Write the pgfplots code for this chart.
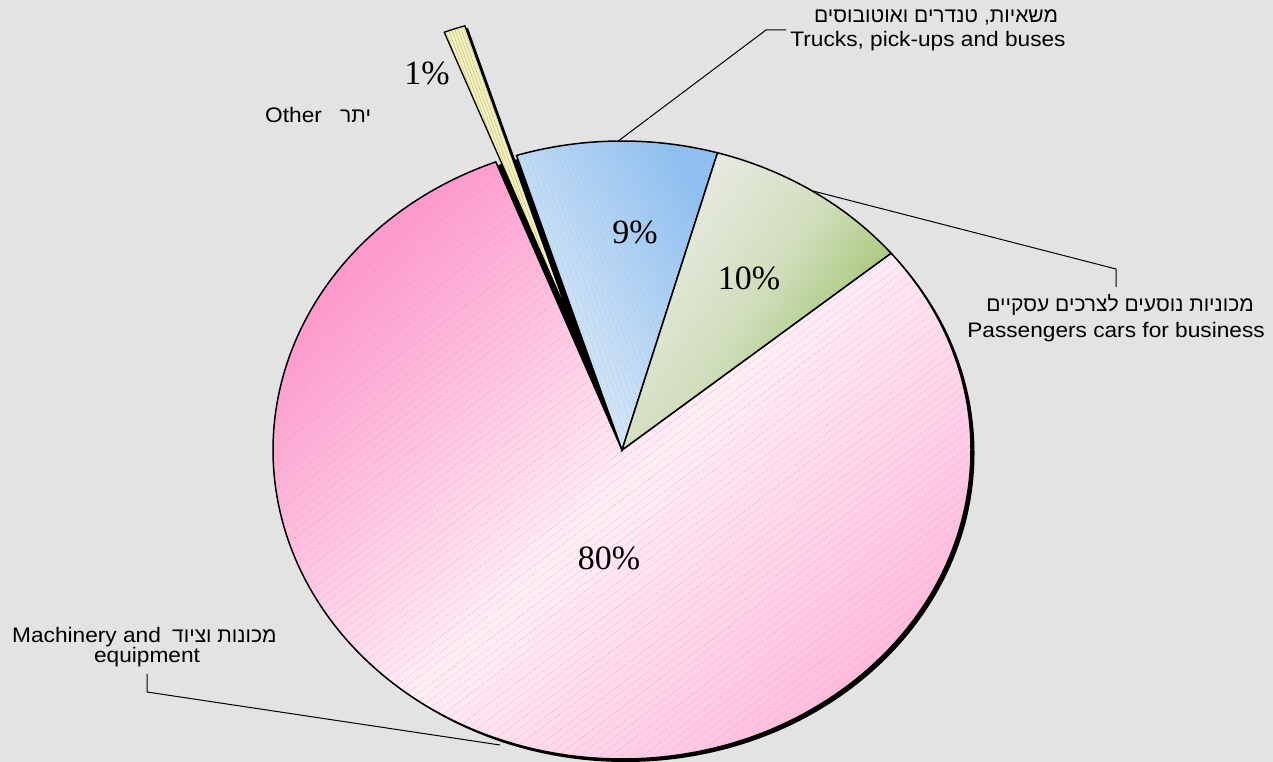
\documentclass[border=0pt]{standalone}
\usepackage{fontspec}
\setmainfont[FakeStretch=1.08]{Liberation Sans}
\newfontfamily\hebfont[Script=Hebrew]{Liberation Sans}
\newfontfamily\pctfont{Liberation Serif}
\TeXXeTstate=1
\usepackage{pgfplots}
\pgfplotsset{compat=1.18}
\usepackage{pgfplotstable}
\usetikzlibrary{patterns.meta}

\definecolor{bggray}{HTML}{E3E3E3}
\definecolor{pinkD}{HTML}{FF98CC}
\definecolor{pinkL}{HTML}{FFEEF6}
\definecolor{pinkR}{HTML}{FFB4DA}
\definecolor{pinkH}{HTML}{A88AA0}
\definecolor{blueL}{HTML}{E6EFF9}
\definecolor{blueD}{HTML}{8EC0F2}
\definecolor{blueH}{HTML}{9AAAC0}
\definecolor{greenL}{HTML}{ECECE8}
\definecolor{greenD}{HTML}{90BC55}
\definecolor{yel}{HTML}{F6F1B4}

% share of each category, percent
\pgfplotstableread{
name value
trucks 9.3
cars 9.6
machinery 80.1
other 1.0
}\piedata

\pgfplotstablegetelem{0}{value}\of\piedata\let\vTrucks\pgfplotsretval
\pgfplotstablegetelem{1}{value}\of\piedata\let\vCars\pgfplotsretval
\pgfplotstablegetelem{2}{value}\of\piedata\let\vMach\pgfplotsretval
\pgfplotstablegetelem{3}{value}\of\piedata\let\vOther\pgfplotsretval

% slice boundaries, going clockwise
\pgfmathsetmacro\aS{107.6}
\pgfmathsetmacro\aA{\aS-3.6*\vTrucks}
\pgfmathsetmacro\aB{\aA-3.6*\vCars}
\pgfmathsetmacro\aC{\aB-3.6*\vMach}
\pgfmathsetmacro\aD{\aC-3.6*\vOther}
\pgfmathsetmacro\aM{(\aC+\aD)/2}
\pgfmathsetmacro\exX{622+0.445*cos(\aM)*349}
\pgfmathsetmacro\exY{312+0.445*sin(\aM)*309}
\pgfmathtruncatemacro\pTrucks{round(\vTrucks)}
\pgfmathtruncatemacro\pCars{round(\vCars)}
\pgfmathtruncatemacro\pMach{round(\vMach)}
\pgfmathtruncatemacro\pOther{round(\vOther)}

\def\slicepath#1#2#3#4{(axis cs:#1,#2) -- ++(#3:349pt and 309pt)
  arc[start angle=#3, end angle=#4, x radius=349pt, y radius=309pt] -- cycle}

\begin{document}
\begin{tikzpicture}
\begin{axis}[hide axis, scale only axis, width=1273pt, height=762pt,
  xmin=0, xmax=1273, ymin=0, ymax=762, clip=false, disabledatascaling]
\fill[bggray] (axis cs:0,0) rectangle (axis cs:1273,762);

% shadow
\fill[black] (axis cs:625.5,309) ellipse[x radius=349pt, y radius=309pt];

% machinery
\shade[overlay, top color=pinkD, bottom color=pinkR, middle color=pinkL, shading angle=45] \slicepath{622}{312}{\aB}{\aC};
\fill[pattern={Lines[angle=37,distance=6.5pt,line width=0.4pt]}, pattern color=pinkH] \slicepath{622}{312}{\aB}{\aC};
\draw[line width=1.5pt] \slicepath{622}{312}{\aB}{\aC};
% trucks
\shade[overlay, top color=blueD, bottom color=blueL, shading angle=-60] \slicepath{622}{312}{\aS}{\aA};
\fill[pattern={Lines[angle=-70,distance=4pt,line width=0.35pt]}, pattern color=blueH] \slicepath{622}{312}{\aS}{\aA};
\draw[line width=1.5pt] \slicepath{622}{312}{\aS}{\aA};
% cars
\shade[overlay, top color=greenD, bottom color=greenL, middle color=greenL!70!greenD, shading angle=-125] \slicepath{622}{312}{\aA}{\aB};
\draw[line width=1.5pt] \slicepath{622}{312}{\aA}{\aB};
% other, pulled out
\fill[black] \slicepath{\exX+3}{\exY-2}{\aC}{\aD};
\fill[yel] \slicepath{\exX}{\exY}{\aC}{\aD};
\fill[pattern={Lines[angle=-70,distance=3pt,line width=0.3pt]}, pattern color=gray!70] \slicepath{\exX}{\exY}{\aC}{\aD};
\draw[line width=1.3pt] \slicepath{\exX}{\exY}{\aC}{\aD};

% percent labels
\begin{scope}[font=\pctfont\fontsize{34}{34}\selectfont]
\node at (axis cs:609,204) {\pMach\%};
\node at (axis cs:635,530) {\pTrucks\%};
\node at (axis cs:749,484) {\pCars\%};
\node at (axis cs:427,689) {\pOther\%};
\end{scope}

% category labels
\begin{scope}[font=\fontsize{21}{25}\selectfont, inner sep=0pt]
\node[anchor=base] at (axis cs:936,739) {\hebfont\beginR משאיות, טנדרים ואוטובוסים\endR};
\node[anchor=base] at (axis cs:928,715) {Trucks, pick-ups and buses};
\node[anchor=base] at (axis cs:1120,450) {\hebfont\beginR מכוניות נוסעים לצרכים עסקיים\endR};
\node[anchor=base] at (axis cs:1116,424) {Passengers cars for business};
\node[anchor=base west] at (axis cs:12,119) {Machinery and};
\node[anchor=base west] at (axis cs:172,119) {\hebfont\beginR מכונות וציוד\endR};
\node[anchor=base] at (axis cs:147,99) {equipment};
\node[anchor=base west] at (axis cs:265,639) {Other};
\node[anchor=base west] at (axis cs:340,639) {\hebfont\beginR יתר\endR};
\end{scope}

% leader lines
\draw[line width=1pt] (axis cs:617,620) -- (axis cs:766,732) -- (axis cs:786,732);
\draw[line width=1pt] (axis cs:813,571) -- (axis cs:1116,493) -- (axis cs:1116,475);
\draw[line width=1pt] (axis cs:500,17) -- (axis cs:147,70) -- (axis cs:147,88);
\end{axis}
\pgfresetboundingbox
\path[use as bounding box] (0,0) rectangle (1273pt,762pt);
\end{tikzpicture}
\end{document}
